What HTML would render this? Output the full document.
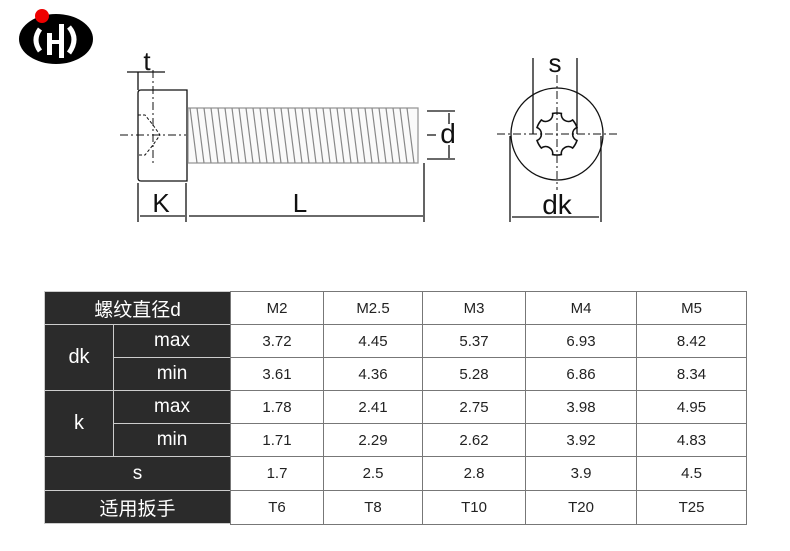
<!DOCTYPE html>
<html><head><meta charset="utf-8"><style>
body{margin:0;width:790px;height:551px;background:#fff;overflow:hidden;position:relative;font-family:"Liberation Sans","Noto Sans CJK SC",sans-serif}
svg{position:absolute;left:0;top:0}
.c{position:absolute;display:flex;align-items:center;justify-content:center;box-sizing:border-box}
.d{background:#2b2b2b;color:#fff;border:1px solid #ccc;font-size:19px}
.w{background:#fff;color:#222;border:1px solid #777;font-size:15px}
</style></head><body>
<svg width="790" height="551">
<ellipse cx="56" cy="39" rx="37" ry="25" fill="#000"/>
<path d="M40 29 Q32 40 40 51" stroke="#fff" stroke-width="5" fill="none"/>
<rect x="47" y="33" width="5" height="22" fill="#fff"/>
<rect x="59" y="24" width="5" height="34" fill="#fff"/>
<rect x="52" y="40" width="8" height="4" fill="#fff"/>
<path d="M69 27 Q79 39 69 53" stroke="#fff" stroke-width="5" fill="none"/>
<circle cx="42" cy="16" r="7" fill="#e00"/>
<g stroke="#111" fill="none" stroke-width="1.3">
<path d="M141 90 H187 V181 H141 Q138 181 138 178 V93 Q138 90 141 90Z"/>
<path d="M138 115 H145 L153 125 L160 135 L153 145 L145 155 H138" stroke-dasharray="3 2" stroke-width="1"/>
<rect x="188" y="108" width="230" height="55" fill="#fafafa" stroke="#999"/>
<g stroke="#888" stroke-width="1.2">
<path d="M190 108 l7 55 M197 108 l7 55 M204 108 l7 55 M211 108 l7 55 M218 108 l7 55 M225 108 l7 55 M232 108 l7 55 M239 108 l7 55 M246 108 l7 55 M253 108 l7 55 M260 108 l7 55 M267 108 l7 55 M274 108 l7 55 M281 108 l7 55 M288 108 l7 55 M295 108 l7 55 M302 108 l7 55 M309 108 l7 55 M316 108 l7 55 M323 108 l7 55 M330 108 l7 55 M337 108 l7 55 M344 108 l7 55 M351 108 l7 55 M358 108 l7 55 M365 108 l7 55 M372 108 l7 55 M379 108 l7 55 M386 108 l7 55 M393 108 l7 55 M400 108 l7 55 M407 108 l7 55"/>
</g>
<path d="M120 135 H186" stroke-dasharray="8 3 2 3" stroke-width="1"/>
<path d="M153 70 V165" stroke-dasharray="8 3 2 3" stroke-width="1"/>
<path d="M138 72 V90 M127 72 H165"/>
<path d="M138 183 V222 M186 183 V222 M140 216 H185 M189 216 H423 M424 163 V222"/>
<path d="M427 111 H455 M427 159 H455 M449 113 V124 M449 145 V158 M427 135 H436"/>
<circle cx="557" cy="134" r="46"/>
<path d="M533 58 V134 M577 58 V134 M510 136 V222 M601 136 V222 M512 217 H599"/>
<path d="M497 134 H617 M557 75 V190" stroke-dasharray="8 3 2 3" stroke-width="1"/>
<path stroke-width="1.6" d="M576.97 127.51 A7 7 0 0 0 576.97 140.49 A21 21 0 0 1 572.61 148.05 A7 7 0 0 0 561.37 154.54 A21 21 0 0 1 552.63 154.54 A7 7 0 0 0 541.39 148.05 A21 21 0 0 1 537.03 140.49 A7 7 0 0 0 537.03 127.51 A21 21 0 0 1 541.39 119.95 A7 7 0 0 0 552.63 113.46 A21 21 0 0 1 561.37 113.46 A7 7 0 0 0 572.61 119.95 A21 21 0 0 1 576.97 127.51Z"/>
</g>
<g font-family="Liberation Sans,sans-serif" fill="#111" text-anchor="middle">
<text x="147" y="70" font-size="26">t</text>
<text x="161" y="212" font-size="26">K</text>
<text x="300" y="212" font-size="26">L</text>
<text x="448" y="143" font-size="28">d</text>
<text x="555" y="72" font-size="26">s</text>
<text x="557" y="214" font-size="28">dk</text>
</g>
</svg>
<div class="c d" style="left:44px;top:291px;width:187px;height:34px">螺纹直径d</div>
<div class="c d" style="left:44px;top:324px;width:70px;height:67px;font-size:20px">dk</div>
<div class="c d" style="left:113px;top:324px;width:118px;height:34px">max</div>
<div class="c d" style="left:113px;top:357px;width:118px;height:34px">min</div>
<div class="c d" style="left:44px;top:390px;width:70px;height:67px;font-size:20px">k</div>
<div class="c d" style="left:113px;top:390px;width:118px;height:34px">max</div>
<div class="c d" style="left:113px;top:423px;width:118px;height:34px">min</div>
<div class="c d" style="left:44px;top:456px;width:187px;height:35px">s</div>
<div class="c d" style="left:44px;top:490px;width:187px;height:34px">适用扳手</div>
<div id="t"></div>
<script>
var cols=[230,323,422,525,636,746];
var rows=[291,324,357,390,423,456,490,524];
var data=[["M2","M2.5","M3","M4","M5"],["3.72","4.45","5.37","6.93","8.42"],["3.61","4.36","5.28","6.86","8.34"],["1.78","2.41","2.75","3.98","4.95"],["1.71","2.29","2.62","3.92","4.83"],["1.7","2.5","2.8","3.9","4.5"],["T6","T8","T10","T20","T25"]];
var h="";
for(var r=0;r<7;r++)for(var c=0;c<5;c++)h+='<div class="c w" style="left:'+cols[c]+'px;top:'+rows[r]+'px;width:'+(cols[c+1]-cols[c]+1)+'px;height:'+(rows[r+1]-rows[r]+1)+'px">'+data[r][c]+'</div>';
document.getElementById("t").innerHTML=h;
</script>
</body></html>
